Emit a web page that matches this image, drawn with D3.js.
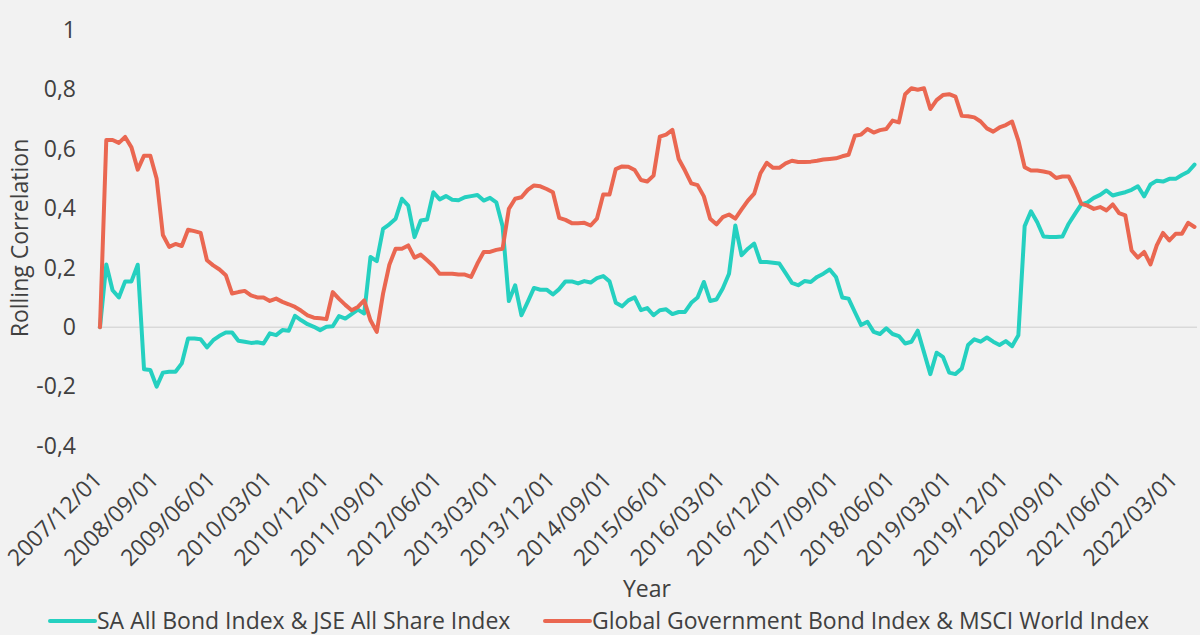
<!DOCTYPE html>
<html>
<head>
<meta charset="utf-8">
<script src="https://cdn.jsdelivr.net/npm/d3@7"></script>
<style>
  html, body { margin: 0; padding: 0; background: #f2f2f2; }
  svg { display: block; }
  text { font-family: "Open Sans", "Noto Sans", sans-serif; fill: #404040; }
</style>
</head>
<body>
<svg id="chart" width="1200" height="635"></svg>
<script>
// ---- data ----
const startYear = 2007, startMonth = 12, monthCount = 175;
const seriesNames = ["SA All Bond Index & JSE All Share Index", "Global Government Bond Index & MSCI World Index"];
const seriesColors = ["#25d0c0", "#ea6751"];
const tickLabels = ["2007/12/01","2008/09/01","2009/06/01","2010/03/01","2010/12/01","2011/09/01","2012/06/01","2013/03/01","2013/12/01","2014/09/01","2015/06/01","2016/03/01","2016/12/01","2017/09/01","2018/06/01","2019/03/01","2019/12/01","2020/09/01","2021/06/01","2022/03/01"];
const yTicks = [-0.4, -0.2, 0, 0.2, 0.4, 0.6, 0.8, 1];

const saBondJse = [
 0, 0.211, 0.124, 0.10, 0.154, 0.154, 0.21, -0.142, -0.144, -0.20,
 -0.153, -0.15, -0.15, -0.122, -0.038, -0.038, -0.041, -0.068, -0.044, -0.029,
 -0.018, -0.018, -0.046, -0.049, -0.053, -0.051, -0.055, -0.021, -0.027, -0.01,
 -0.012, 0.038, 0.023, 0.01, 0.001, -0.01, 0.001, 0.003, 0.037, 0.029,
 0.044, 0.059, 0.046, 0.236, 0.222, 0.331, 0.346, 0.365, 0.432, 0.409,
 0.303, 0.359, 0.362, 0.454, 0.43, 0.441, 0.429, 0.427, 0.437, 0.441,
 0.445, 0.426, 0.435, 0.42, 0.34, 0.088, 0.141, 0.04, 0.085, 0.132,
 0.126, 0.126, 0.11, 0.128, 0.154, 0.154, 0.147, 0.155, 0.15, 0.165,
 0.172, 0.154, 0.082, 0.07, 0.09, 0.10, 0.057, 0.064, 0.04, 0.057,
 0.06, 0.044, 0.051, 0.051, 0.082, 0.10, 0.152, 0.088, 0.093, 0.13,
 0.18, 0.342, 0.242, 0.264, 0.281, 0.219, 0.219, 0.217, 0.214, 0.182,
 0.149, 0.141, 0.155, 0.152, 0.169, 0.18, 0.194, 0.169, 0.10, 0.096,
 0.051, 0.007, 0.018, -0.016, -0.023, -0.004, -0.023, -0.03, -0.055, -0.049,
 -0.012, -0.085, -0.158, -0.086, -0.10, -0.153, -0.158, -0.139, -0.06, -0.041,
 -0.049, -0.035, -0.049, -0.06, -0.047, -0.064, -0.027, 0.34, 0.39, 0.353,
 0.305, 0.303, 0.303, 0.305, 0.348, 0.381, 0.413, 0.42, 0.435, 0.445,
 0.46, 0.443, 0.449, 0.454, 0.462, 0.474, 0.44, 0.48, 0.493, 0.49,
 0.499, 0.499, 0.512, 0.523, 0.547
];

const globalBondMsci = [
 0, 0.63, 0.63, 0.62, 0.64, 0.605, 0.53, 0.577, 0.577, 0.50,
 0.31, 0.27, 0.28, 0.273, 0.328, 0.323, 0.317, 0.225, 0.208, 0.194,
 0.175, 0.113, 0.118, 0.122, 0.107, 0.10, 0.10, 0.088, 0.096, 0.085,
 0.077, 0.068, 0.055, 0.04, 0.032, 0.03, 0.027, 0.118, 0.095, 0.075,
 0.057, 0.068, 0.09, 0.023, -0.016, 0.113, 0.21, 0.264, 0.264, 0.275,
 0.234, 0.244, 0.225, 0.206, 0.18, 0.18, 0.18, 0.177, 0.177, 0.169,
 0.214, 0.253, 0.253, 0.26, 0.264, 0.398, 0.432, 0.437, 0.462, 0.477,
 0.474, 0.465, 0.454, 0.368, 0.361, 0.35, 0.35, 0.351, 0.342, 0.365,
 0.446, 0.446, 0.532, 0.541, 0.54, 0.529, 0.495, 0.49, 0.51, 0.641,
 0.648, 0.664, 0.566, 0.527, 0.484, 0.478, 0.44, 0.365, 0.346, 0.37,
 0.379, 0.365, 0.396, 0.426, 0.449, 0.518, 0.553, 0.536, 0.536, 0.551,
 0.56, 0.556, 0.556, 0.557, 0.56, 0.564, 0.566, 0.568, 0.575, 0.58,
 0.644, 0.648, 0.667, 0.655, 0.663, 0.667, 0.695, 0.689, 0.784, 0.804,
 0.799, 0.804, 0.734, 0.764, 0.781, 0.784, 0.776, 0.711, 0.71, 0.706,
 0.692, 0.669, 0.658, 0.672, 0.68, 0.692, 0.628, 0.538, 0.527, 0.527,
 0.524, 0.519, 0.502, 0.507, 0.507, 0.465, 0.415, 0.409, 0.398, 0.404,
 0.393, 0.413, 0.384, 0.376, 0.258, 0.234, 0.253, 0.211, 0.275, 0.317,
 0.292, 0.314, 0.314, 0.351, 0.337
];

// month categories
const months = d3.range(monthCount).map(i => {
  const m0 = startMonth - 1 + i;
  const y = startYear + Math.floor(m0 / 12);
  const m = (m0 % 12) + 1;
  return `${y}/${String(m).padStart(2, "0")}/01`;
});

// ---- chart ----
const FS = 23;
const svg = d3.select("#chart");
const x = d3.scalePoint().domain(months).range([100, 1194.5]);
const y = d3.scaleLinear().domain([-0.4, 1]).range([446, 30]);
const locale = d3.formatLocale({decimal: ",", thousands: ".", grouping: [3], currency: ["", ""], minus: "-"});
const fmt = v => Math.abs(v) < 1e-9 ? "0" : locale.format("~g")(+v.toFixed(1));

// zero gridline
svg.append("line")
  .attr("x1", 97).attr("x2", 1197)
  .attr("y1", y(0)).attr("y2", y(0))
  .attr("stroke", "#d9d9d9").attr("stroke-width", 1.5);

// y axis
const yAxis = svg.append("g").attr("transform", "translate(76,0)")
  .call(d3.axisLeft(y).tickValues(yTicks).tickSize(0).tickPadding(0).tickFormat(fmt));
yAxis.select(".domain").remove();
yAxis.selectAll("text").attr("font-size", FS).style("font-family", "'Open Sans', sans-serif").attr("fill", "#404040");

// x axis
const xAxis = svg.append("g").attr("transform", "translate(0,481)")
  .call(d3.axisBottom(x).tickValues(tickLabels).tickSize(0).tickFormat(d => d));
xAxis.select(".domain").remove();
xAxis.selectAll(".tick text")
  .attr("font-size", FS)
  .attr("fill", "#404040")
  .style("font-family", "'Open Sans', sans-serif")
  .attr("text-anchor", "end")
  .attr("y", 0).attr("dy", 0)
  .attr("transform", "translate(3,0) rotate(-45)");

// axis titles
svg.append("text").attr("x", 647).attr("y", 597).attr("text-anchor", "middle")
  .attr("font-size", FS).text("Year");
svg.append("text").attr("transform", "translate(28,238) rotate(-90)").attr("text-anchor", "middle")
  .attr("font-size", FS).text("Rolling Correlation");

// lines
const line = d3.line().x((d, i) => x(months[i])).y(d => y(d));
[saBondJse, globalBondMsci].forEach((s, k) => {
  svg.append("path").datum(s)
    .attr("d", line)
    .attr("fill", "none")
    .attr("stroke", seriesColors[k])
    .attr("stroke-width", 4)
    .attr("stroke-linejoin", "round")
    .attr("stroke-linecap", "round");
});

// legend
const legendItems = [{x: 50}, {x: 545}];
legendItems.forEach((it, k) => {
  const g = svg.append("g").attr("transform", `translate(${it.x},621)`);
  g.append("line").attr("x1", 0).attr("x2", 45).attr("y1", 0).attr("y2", 0)
    .attr("stroke", seriesColors[k]).attr("stroke-width", 4).attr("stroke-linecap", "round");
  g.append("text").attr("x", 47).attr("y", 0).attr("dy", "0.35em")
    .attr("font-size", FS).text(seriesNames[k]);
});
</script>
</body>
</html>
